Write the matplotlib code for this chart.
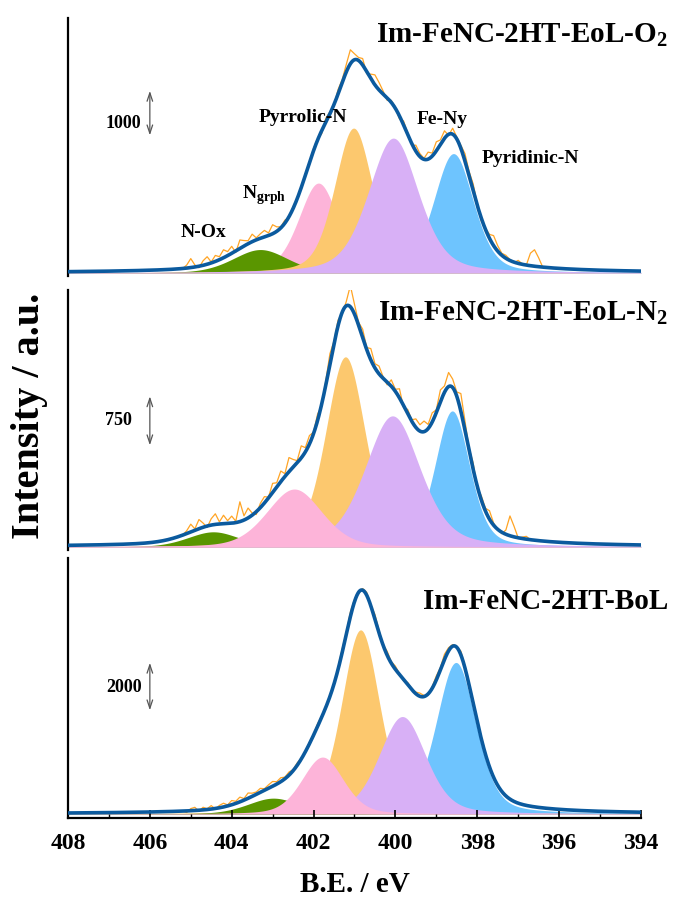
import numpy as np
import matplotlib.pyplot as plt
from matplotlib.ticker import MultipleLocator

plt.rcParams['font.family'] = ['Liberation Serif', 'DejaVu Serif']
plt.rcParams['font.weight'] = 'bold'
plt.rcParams['mathtext.fontset'] = 'custom'
plt.rcParams['mathtext.rm'] = 'Liberation Serif:bold'
plt.rcParams['mathtext.bf'] = 'Liberation Serif:bold'

# fitted components, order: N-Ox, N-graphitic, pyrrolic, Fe-Ny, pyridinic
peak_colors = ['#5a9600', '#fdb4d9', '#fcc86e', '#d8b0f6', '#6ec4fe']

# EoL-O2
o2_centre = [403.30, 401.88, 401.02, 400.05, 398.58]
o2_height = [470, 1800, 2900, 2700, 2390]
o2_fwhm = [1.6, 1.15, 1.1, 1.45, 1.15]
o2_eta = [0.3, 0.35, 0.35, 0.4, 0.35]
o2_order = [1, 0, 4, 2, 3]

# EoL-N2
n2_centre = [404.45, 402.47, 401.22, 400.07, 398.61]
n2_height = [215, 820, 2690, 1855, 1925]
n2_fwhm = [1.5, 1.6, 1.15, 1.6, 1.0]
n2_eta = [0.3, 0.3, 0.35, 0.4, 0.35]
n2_order = [0, 4, 2, 3, 1]

# BoL
bol_centre = [402.98, 401.78, 400.85, 399.83, 398.52]
bol_height = [600, 2150, 6950, 3680, 5720]
bol_fwhm = [1.5, 1.2, 1.1, 1.35, 1.15]
bol_eta = [0.3, 0.3, 0.35, 0.35, 0.35]
bol_order = [4, 2, 3, 0, 1]

# raw spectra, residual to the fit envelope, 405.2 -> 396.4 eV in 0.1 eV steps
o2_resid = [0, 60, 180, 40, -30, 90, 150, 20, 120, 60,
            160, 80, 140, -30, 170, 110, 60, 150, 40, 90,
            130, 50, 180, 90, 20, 60, -20, 40, 10, -30,
            30, -40, 50, 20, -60, 80, 40, -20, 90, 60,
            150, 280, 120, 60, 130, -40, 90, 200, 150, 60,
            -50, 40, 20, -60, 80, 30, -40, 120, 60, 20,
            140, 60, 180, 90, 150, -20, 120, 40, 60, 150,
            90, 140, 30, -60, 20, 80, 200, 110, 40, 60,
            20, -10, 60, 10, 0, 250, 330, 180, 0]
n2_resid = [0, 40, 110, 20, 130, 60, -20, 90, 150, 30,
            120, 40, 100, 20, 280, 60, 140, 30, -40, 60,
            90, 10, 130, 60, 150, 40, 200, 110, 30, 170,
            60, 120, 20, 90, -30, 60, 150, 40, 80, -20,
            60, 300, 140, 40, 120, 30, 160, 60, 110, 20,
            -40, 90, 30, 130, -30, 60, 20, 120, 90, 150,
            60, 130, 40, 170, 90, 200, 120, 60, 250, 130,
            30, 90, -20, 60, 40, 120, 30, 0, -20, 60,
            280, 150, 0, 20, 40, 0, 0, 10, 0]
bol_resid = [0, -60, 80, 120, -40, 100, 30, 130, -20, 90,
             140, 40, 160, 80, 180, 60, 200, 120, 90, 150,
             60, 130, 180, 90, 150, 60, 120, 40, 90, 30,
             -20, 60, 20, 100, 40, -60, 50, 20, 80, 140,
             60, 180, 90, -40, 60, 110, 30, 180, 90, 20,
             150, 60, 120, 30, -60, 80, 20, 60, 120, 40,
             -40, 60, 150, 90, 200, 120, 60, 30, 140, 80,
             40, 120, 20, 90, 60, -20, 40, 0, 20, 0,
             0, 0, 0, 0, 0, 0, 0, 0, 0]

panels = [
    dict(c=o2_centre, h=o2_height, w=o2_fwhm, eta=o2_eta, order=o2_order, resid=o2_resid,
         ylim=(-60, 5100), bar=(3700, 2700), bar_label='1000', bar_txt=(406.22, 3000),
         title='Im-FeNC-2HT-EoL-O$_2$', title_y=0.934),
    dict(c=n2_centre, h=n2_height, w=n2_fwhm, eta=n2_eta, order=n2_order, resid=n2_resid,
         ylim=(-42, 3635), bar=(2170, 1400), bar_label='750', bar_txt=(406.44, 1796),
         title='Im-FeNC-2HT-EoL-N$_2$', title_y=0.912),
    dict(c=bol_centre, h=bol_height, w=bol_fwhm, eta=bol_eta, order=bol_order, resid=bol_resid,
         ylim=(-150, 9660), bar=(5811, 3811), bar_label='2000', bar_txt=(406.2, 4792),
         title='Im-FeNC-2HT-BoL', title_y=0.831),
]

# peak labels on the top panel: (text, eV, counts)
label_text = ['N-Ox', r'N$_{\mathrm{grph}}$', 'Pyrrolic-N', 'Fe-Ny', 'Pyridinic-N']
label_x = [404.70, 403.21, 402.26, 398.86, 396.71]
label_y = [820, 1560, 3120, 3080, 2300]


def pvoigt(x, c, h, w, eta):
    g = np.exp(-4 * np.log(2) * ((x - c) / w) ** 2)
    l = 1 / (1 + 4 * ((x - c) / w) ** 2)
    return h * ((1 - eta) * g + eta * l)


ev = np.linspace(408, 394, 1401)
raw_ev = np.round(np.arange(405.2, 396.35, -0.1), 2)

fig = plt.figure(figsize=(6.74, 9.08), dpi=100)
boxes = [(0.1009, 0.696, 0.850, 0.284),
         (0.1009, 0.3943, 0.850, 0.2863),
         (0.1009, 0.0991, 0.850, 0.2863)]

for i, (p, box) in enumerate(zip(panels, boxes)):
    ax = fig.add_axes(box)
    comps = [pvoigt(ev, p['c'][k], p['h'][k], p['w'][k], p['eta'][k]) for k in range(5)]
    for k in p['order']:
        ax.fill_between(ev, 0, comps[k], color=peak_colors[k], lw=0, zorder=1)
    env = np.sum(comps, axis=0)
    raw_env = np.sum([pvoigt(raw_ev, p['c'][k], p['h'][k], p['w'][k], p['eta'][k])
                      for k in range(5)], axis=0)
    ax.plot(raw_ev, raw_env + np.array(p['resid']), color='#ffa424', lw=0.9, zorder=2)
    ax.plot(ev, env, color='#0b5a9e', lw=2.6, zorder=3)

    ax.annotate('', xy=(406.0, p['bar'][0]), xytext=(406.0, p['bar'][1]),
                arrowprops=dict(arrowstyle='<->,head_length=0.6,head_width=0.2',
                                color='#555555', lw=0.9))
    ax.text(p['bar_txt'][0], p['bar_txt'][1], p['bar_label'], ha='right', va='center',
            fontsize=13, fontweight='bold')
    ax.text(1.047, p['title_y'], p['title'], transform=ax.transAxes, ha='right',
            va='center', fontsize=21, fontweight='bold')

    ax.set_xlim(408, 394)
    ax.set_ylim(*p['ylim'])
    ax.set_yticks([])
    for s in ['top', 'right']:
        ax.spines[s].set_visible(False)
    ax.spines['left'].set_linewidth(1.6)
    if i < 2:
        ax.spines['bottom'].set_visible(False)
        ax.set_xticks([])
    else:
        ax.spines['bottom'].set_linewidth(1.6)
        ax.xaxis.set_major_locator(MultipleLocator(2))
        ax.xaxis.set_minor_locator(MultipleLocator(1))
        ax.tick_params(axis='x', which='major', direction='in', length=6, width=1.2,
                       labelsize=17, pad=11)
        ax.tick_params(axis='x', which='minor', direction='in', length=3, width=1.0)
        for t in ax.get_xticklabels():
            t.set_fontweight('bold')
    if i == 0:
        for t, x, y in zip(label_text, label_x, label_y):
            ax.text(x, y, t, ha='center', va='center', fontsize=14, fontweight='bold')

fig.text(355 / 674, 1 - 885 / 908, 'B.E. / eV', ha='center', va='center',
         fontsize=21, fontweight='bold')
fig.text(30 / 674, 1 - 416 / 908, 'Intensity / a.u.', ha='center', va='center',
         rotation=90, fontsize=29, fontweight='bold')

fig.savefig('out.png', dpi=100)
